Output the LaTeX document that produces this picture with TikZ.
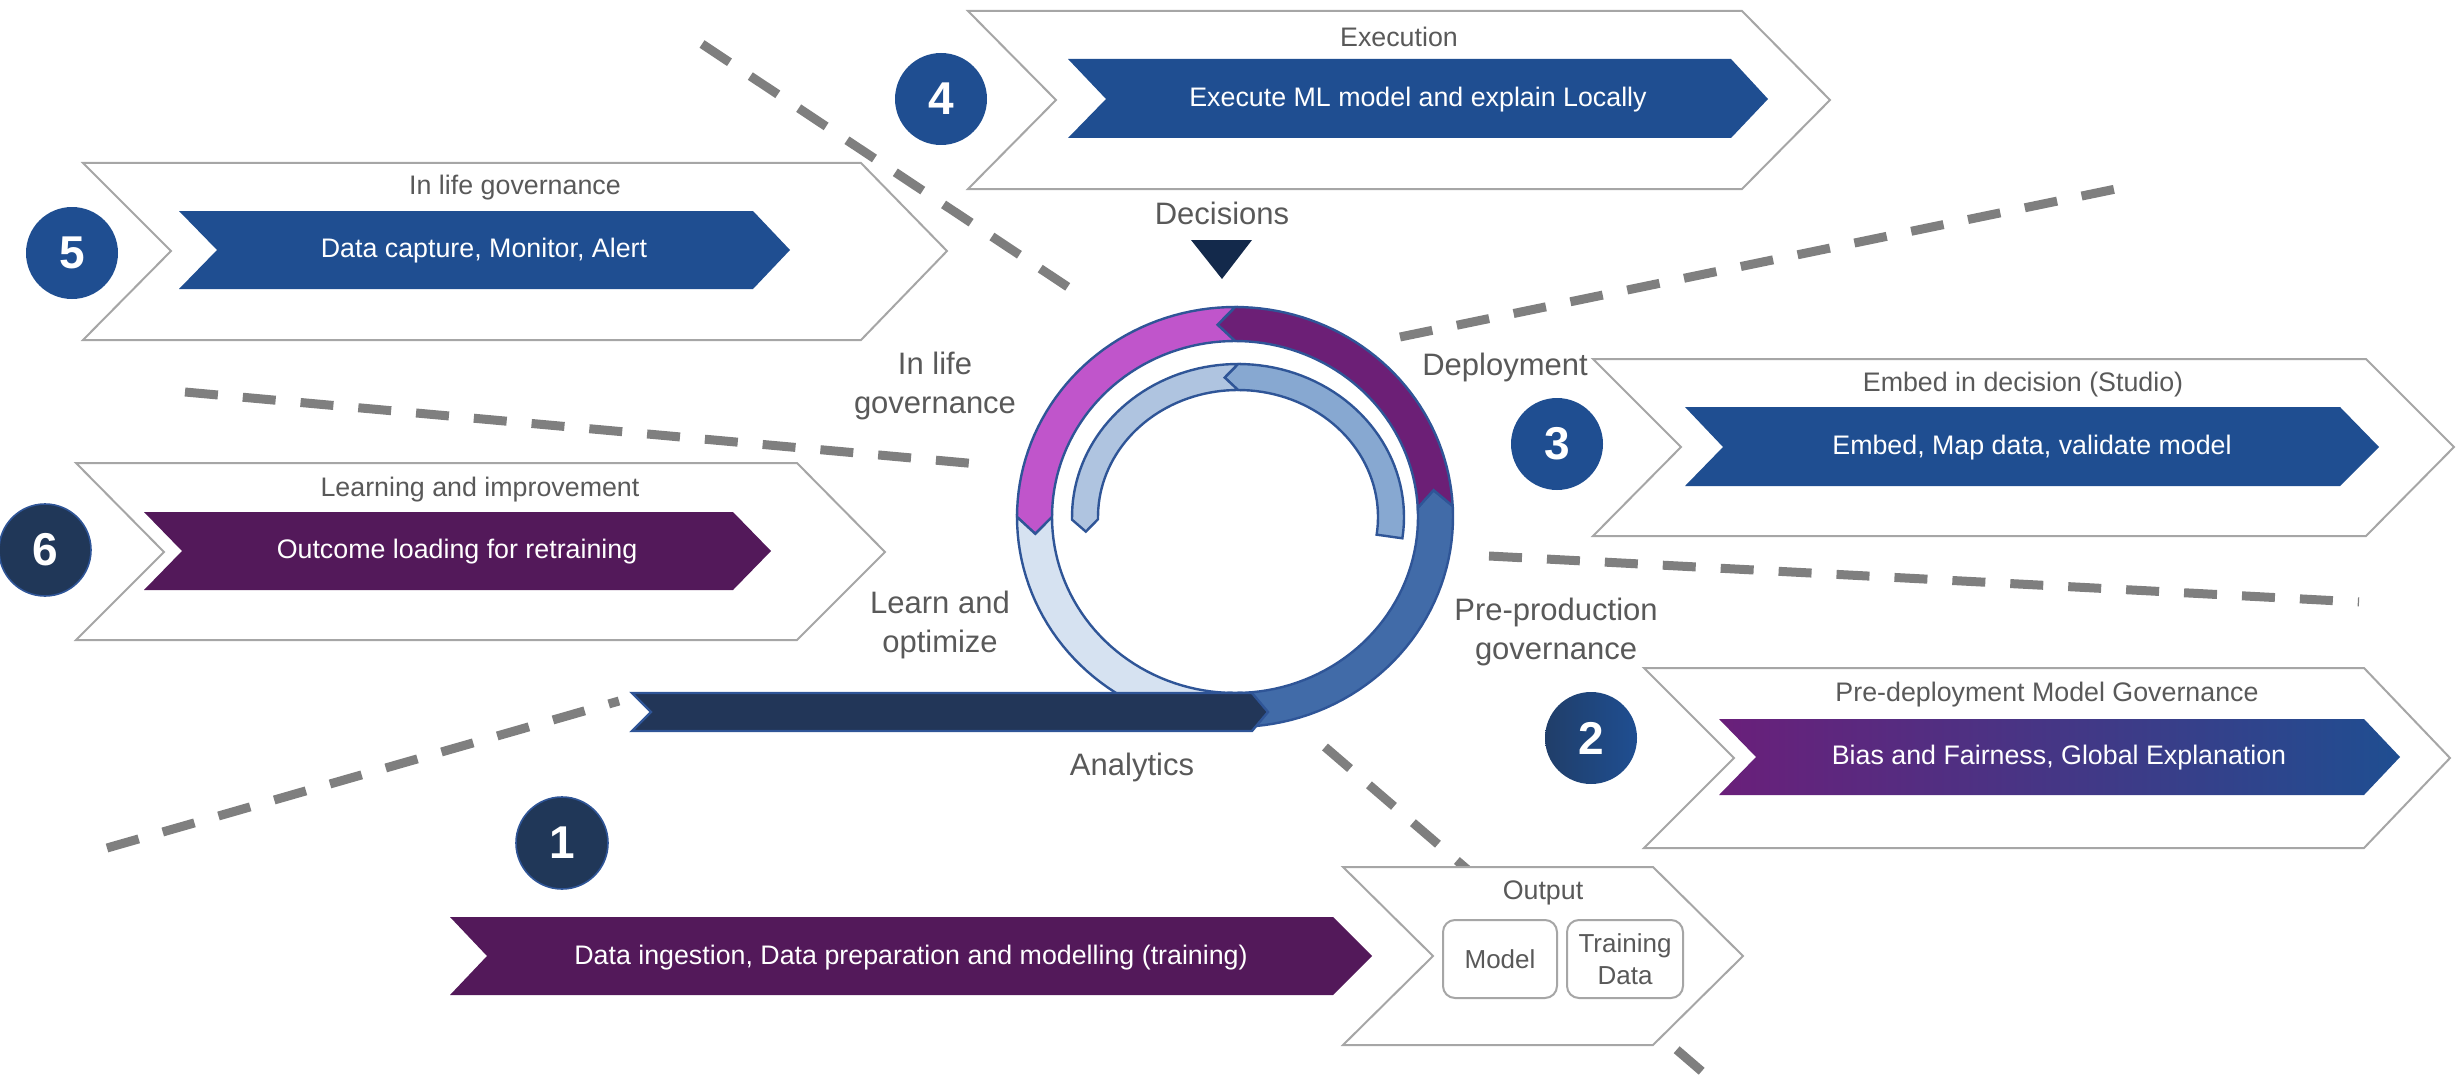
\documentclass[tikz,border=0pt]{standalone}
\usepackage{fontspec}
\setmainfont{Liberation Sans}

\definecolor{txtgray}{HTML}{595959}
\definecolor{chevline}{HTML}{A6A6A6}
\definecolor{stepblue}{HTML}{1F4E91}
\definecolor{steppurple}{HTML}{53195A}
\definecolor{stepnavy}{HTML}{203758}
\definecolor{gradpurple}{HTML}{6A1F7A}
\definecolor{sepgray}{HTML}{7F7F7F}
\definecolor{ringline}{HTML}{2F5597}
\definecolor{ringblue}{HTML}{416BA8}
\definecolor{ringpurple}{HTML}{6C1F76}
\definecolor{ringmagenta}{HTML}{C055CB}
\definecolor{ringlight}{HTML}{D6E2F1}
\definecolor{innerleft}{HTML}{AFC4E0}
\definecolor{innerright}{HTML}{87A8D1}
\definecolor{barnavy}{HTML}{223658}
\definecolor{decisnavy}{HTML}{13294B}

\begin{document}
\begin{tikzpicture}[x=0.5pt, y=-0.5pt,
  chev/.style={draw=chevline, line width=1pt, fill=white},
  sep/.style={sepgray, line width=4.5pt, dash pattern=on 16.5pt off 12.5pt},
  ttl/.style={text=txtgray, font=\fontsize{13.4pt}{16pt}\selectfont},
  steptext/.style={text=white, font=\fontsize{13.4pt}{16pt}\selectfont},
  lbl/.style={text=txtgray, align=center, font=\fontsize{15.5pt}{19.5pt}\selectfont},
  num/.style={circle, minimum size=46pt, inner sep=0pt, text=white, font=\fontsize{23pt}{23pt}\selectfont\bfseries},
  outbox/.style={draw=chevline, line width=1pt, rounded corners=6pt, minimum width=57pt, minimum height=39pt, inner sep=1pt, align=center, text=txtgray, font=\fontsize{13pt}{16pt}\selectfont},
  ring/.style={draw=ringline, line width=1.2pt}]

\useasboundingbox (0,0) rectangle (2458,1081);

%% Separators
\draw[sep] (702,44) -- (1080,295);
\draw[sep] (1400,337) -- (2135,185);
\draw[sep] (185,392) -- (978,464);
\draw[sep] (1489,556) -- (2359,602);
\draw[sep] (107,848) -- (619,701);
\draw[sep] (1325,747) -- (1713,1081);

%% Chevrons
\draw[chev] (968,11) -- (1742,11) -- (1830,100) -- (1742,189) -- (968,189) -- (1056,100) -- cycle;
\draw[chev] (83,163) -- (861,163) -- (947,251) -- (861,340) -- (83,340) -- (171,251) -- cycle;
\draw[chev] (76,463) -- (797,463) -- (885,552) -- (797,640) -- (76,640) -- (164,552) -- cycle;
\draw[chev] (1593,359) -- (2366,359) -- (2454,447) -- (2366,536) -- (1593,536) -- (1681,447) -- cycle;
\draw[chev] (1644,668) -- (2364,668) -- (2450,758) -- (2364,848) -- (1644,848) -- (1734,758) -- cycle;
\draw[chev] (1343,867) -- (1653,867) -- (1743,956) -- (1653,1045) -- (1343,1045) -- (1433,956) -- cycle;

%% Steps
\fill[stepblue] (1068,59) -- (1731,59) -- (1768,99) -- (1731,138) -- (1068,138) -- (1106,99) -- cycle;
\fill[stepblue] (179,211) -- (753,211) -- (790,250) -- (753,289) -- (179,289) -- (217,250) -- cycle;
\fill[steppurple] (144,512) -- (733,512) -- (771,551) -- (733,590) -- (144,590) -- (182,551) -- cycle;
\fill[stepblue] (1685,407) -- (2340,407) -- (2379,447) -- (2340,486) -- (1685,486) -- (1723,447) -- cycle;
\shade[left color=gradpurple, right color=stepblue] (1719,719) -- (2364,719) -- (2400,757) -- (2364,795) -- (1719,795) -- (1756,757) -- cycle;
\fill[steppurple] (450,917) -- (1333,917) -- (1372,956) -- (1333,995) -- (450,995) -- (487,956) -- cycle;

%% Titles
\node[ttl] (t4) at (1399,37) {Execution};
\node[ttl] (t5) at (515,188) {In life governance};
\node[ttl] (t6) at (480,490) {Learning and improvement};
\node[ttl] (t3) at (2023,385) {Embed in decision (Studio)};
\node[ttl] (t2) at (2047,695) {Pre-deployment Model Governance};
\node[ttl] (t1) at (1543,893) {Output};

\node[steptext] (s4) at (1418,100) {Execute ML model and explain Locally};
\node[steptext] (s5) at (484,251) {Data capture, Monitor, Alert};
\node[steptext] (s6) at (457,552) {Outcome loading for retraining};
\node[steptext] (s3) at (2032,448) {Embed, Map data, validate model};
\node[steptext] (s2) at (2059,758) {Bias and Fairness, Global Explanation};
\node[steptext] (s1) at (911,958) {Data ingestion, Data preparation and modelling (training)};

\node[outbox] (model) at (1500,959) {Model};
\node[outbox, minimum width=58pt] (train) at (1625,959) {Training\\Data};

%% Numbers
\node[num, fill=stepblue] (n4) at (941,99) {4};
\node[num, fill=stepblue] (n5) at (72,253) {5};
\node[num, fill=stepnavy, draw=ringline, line width=0.8pt] (n6) at (45,550) {6};
\node[num, fill=stepblue] (n3) at (1557,444) {3};
\node[num, left color=stepnavy!70!stepblue, right color=stepblue] (n2) at (1591,738) {2};
\node[num, fill=stepnavy, draw=ringline, line width=0.8pt] (n1) at (562,843) {1};

%% Outer ring
\foreach \ta/\tb/\da/\db/\col in {268/363/0/5/ringblue, 3/90/5/5/ringpurple, 90/180/5/5/ringmagenta, 180/272/5/0/ringlight}
  \filldraw[ring, fill=\col]
    plot[variable=\ang, domain=\ta:\tb, samples=40] ({1235+218*cos(\ang)},{517-210*sin(\ang)})
    -- ({1235+200.5*cos(\tb+\db)},{517-193*sin(\tb+\db)})
    -- plot[variable=\ang, domain=\tb:\ta, samples=40] ({1235+183*cos(\ang)},{517-176*sin(\ang)})
    -- ({1235+200.5*cos(\ta+\da)},{517-193*sin(\ta+\da)}) -- cycle;

%% Inner ring
\foreach \ta/\tb/\da/\db/\col in {-8/90/0/5/innerright, 90/181/5/5/innerleft}
  \filldraw[ring, fill=\col]
    plot[variable=\ang, domain=\ta:\tb, samples=40] ({1238+166*cos(\ang)},{517-153*sin(\ang)})
    -- ({1238+153*cos(\tb+\db)},{517-140*sin(\tb+\db)})
    -- plot[variable=\ang, domain=\tb:\ta, samples=40] ({1238+140*cos(\ang)},{517-127*sin(\ang)})
    -- ({1238+153*cos(\ta+\da)},{517-140*sin(\ta+\da)}) -- cycle;

%% Analytics bar
\filldraw[ring, fill=barnavy] (632,693) -- (1252,693) -- (1268,712) -- (1252,731) -- (632,731) -- (651,712) -- cycle;

%% Decisions
\fill[decisnavy] (1191,240) -- (1252,240) -- (1222,279) -- cycle;

%% Phase labels
\node[lbl] (decisions) at (1222,213) {Decisions};
\node[lbl] (inlife) at (935,386) {In life\\governance};
\node[lbl] (deploy) at (1505,367) {Deployment};
\node[lbl] (learn) at (940,625) {Learn and\\optimize};
\node[lbl] (preprod) at (1556,632) {Pre-production\\governance};
\node[lbl] (analytics) at (1132,767) {Analytics};

\end{tikzpicture}
\end{document}
